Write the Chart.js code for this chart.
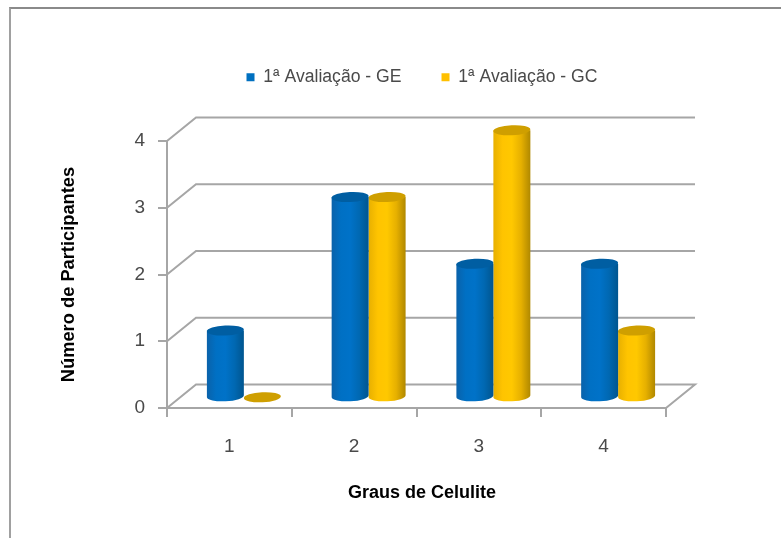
<!DOCTYPE html>
<html>
<head>
<meta charset="utf-8">
<title>Graus de Celulite</title>
<style>
html, body { margin: 0; padding: 0; background: #fff; overflow: hidden; }
#wrap { position: relative; width: 781px; height: 538px; }
#frame { position: absolute; left: 9px; top: 7px; right: 0; bottom: 0; border-top: 2px solid #8a8a8a; border-left: 2px solid #a0a0a0; }
canvas { position: absolute; left: 0; top: 0; filter: blur(0.5px); }
</style>
<script src="https://cdn.jsdelivr.net/npm/chart.js@4"></script>
</head>
<body>
<div id="wrap">
  <div id="frame"></div>
  <canvas id="grausChart" width="781" height="538"></canvas>
</div>
<script>
const categories = ['1', '2', '3', '4'];
const valoresGE = [1, 3, 2, 2];
const valoresGC = [0, 3, 4, 1];
const yTicks = [0, 1, 2, 3, 4];
const xTitle = 'Graus de Celulite';

// depth of the fake 3d box, in pixels
const depthX = 29;
const depthY = 23.5;
const gridColor = '#a6a6a6';
const textColor = '#4a4a4a';

const walls3d = {
  id: 'walls3d',
  afterLayout(chart) {
    // legend sits higher and further right than chart.js would centre it
    const lg = chart.legend;
    lg.left += 60; lg.right += 60;
    lg.top -= 45; lg.bottom -= 45;
  },
  beforeDatasetsDraw(chart) {
    const { ctx, scales: { x, y } } = chart;
    const l = x.left, r = x.right;
    ctx.save();
    ctx.strokeStyle = gridColor;
    ctx.lineWidth = 2;
    yTicks.forEach(v => {
      const py = y.getPixelForValue(v);
      ctx.beginPath();
      ctx.moveTo(l, py);
      ctx.lineTo(l + depthX, py - depthY);
      ctx.lineTo(r + depthX, py - depthY);
      if (v === 0) ctx.lineTo(r, py);
      ctx.stroke();
    });
    ctx.restore();
  },
  // cylinders instead of the flat bars
  beforeDatasetDraw(chart, args) {
    const { ctx } = chart;
    const meta = args.meta;
    const ds = chart.data.datasets[args.index];
    meta.data.forEach(bar => {
      const cx = bar.x + depthX / 2;
      const rx = bar.width / 2;
      const ry = 5;
      const top = bar.y - depthY / 2 + 1;
      const base = bar.base - depthY / 2 + 1;
      const tilt = -0.05;
      ctx.save();
      if (base - top > 1) {
        const g = ctx.createLinearGradient(cx - rx, 0, cx + rx, 0);
        ds.shades.forEach((c, i) => g.addColorStop(i / (ds.shades.length - 1), c));
        ctx.fillStyle = g;
        ctx.beginPath();
        ctx.ellipse(cx, base, rx, ry, tilt, 0, Math.PI);
        ctx.lineTo(cx - rx, top);
        ctx.lineTo(cx + rx, top);
        ctx.closePath();
        ctx.fill();
      }
      ctx.fillStyle = ds.topColor;
      ctx.beginPath();
      ctx.ellipse(cx, top, rx, ry, tilt, 0, Math.PI * 2);
      ctx.fill();
      ctx.restore();
    });
    return false;
  },
  afterDraw(chart) {
    // x title is a little right of the plot centre in the original
    const { ctx, scales: { x } } = chart;
    ctx.save();
    ctx.fillStyle = '#000';
    ctx.font = 'bold 18px "Liberation Sans"';
    ctx.textAlign = 'center';
    ctx.textBaseline = 'middle';
    ctx.fillText(xTitle, (x.left + x.right) / 2 + 5.5, x.bottom - 45);
    ctx.restore();
  }
};

new Chart(document.getElementById('grausChart'), {
  type: 'bar',
  data: {
    labels: categories,
    datasets: [
      { label: '1ª Avaliação - GE', data: valoresGE, backgroundColor: '#0070c0', borderWidth: 0,
        topColor: '#005ea2', shades: ['#0a62aa', '#0070c4', '#0072c8', '#0068b2', '#00558f'] },
      { label: '1ª Avaliação - GC', data: valoresGC, backgroundColor: '#ffc000', borderWidth: 0,
        topColor: '#cf9f00', shades: ['#e8b000', '#ffc400', '#ffc800', '#e6b000', '#b08800'] }
    ]
  },
  options: {
    responsive: false,
    animation: false,
    layout: { padding: { left: 58, right: 115, top: 73.4, bottom: 0 } },
    datasets: { bar: { barPercentage: 1, categoryPercentage: 0.593 } },
    plugins: {
      tooltip: { enabled: false },
      legend: {
        position: 'top',
        labels: {
          boxWidth: 8, boxHeight: 8, padding: 40, color: textColor,
          font: { family: 'Liberation Sans', size: 17.6 }
        }
      }
    },
    scales: {
      x: {
        afterFit: s => { s.height = 130; },
        grid: { drawOnChartArea: false, color: gridColor, lineWidth: 2, tickLength: 9, tickColor: gridColor },
        border: { color: gridColor, width: 2 },
        ticks: { color: textColor, padding: 18, font: { family: 'Liberation Sans', size: 19 } }
      },
      y: {
        min: 0, max: 4,
        afterFit: s => { s.width = 109; },
        grid: { drawOnChartArea: false, color: gridColor, lineWidth: 2, tickLength: 9, tickColor: gridColor },
        border: { color: gridColor, width: 2 },
        ticks: { stepSize: 1, color: textColor, padding: 13, font: { family: 'Liberation Sans', size: 19 } },
        title: { display: true, text: 'Número de Participantes', color: '#000', padding: 0,
          font: { family: 'Liberation Sans', size: 18.3, weight: 'bold' } }
      }
    }
  },
  plugins: [walls3d]
});
</script>
</body>
</html>
